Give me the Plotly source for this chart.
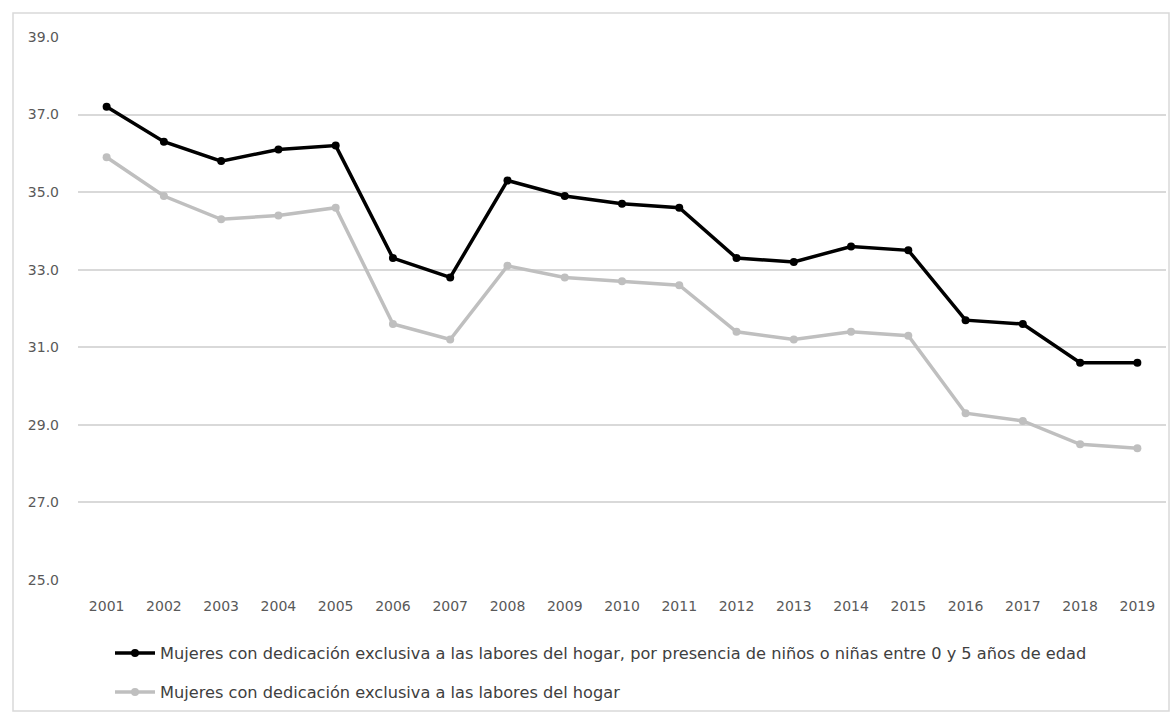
import plotly.graph_objects as go

years = [str(y) for y in range(2001, 2020)]

con_ninos = [37.2, 36.3, 35.8, 36.1, 36.2, 33.3, 32.8, 35.3, 34.9, 34.7,
             34.6, 33.3, 33.2, 33.6, 33.5, 31.7, 31.6, 30.6, 30.6]
total = [35.9, 34.9, 34.3, 34.4, 34.6, 31.6, 31.2, 33.1, 32.8, 32.7,
         32.6, 31.4, 31.2, 31.4, 31.3, 29.3, 29.1, 28.5, 28.4]

y_ticks = [25, 27, 29, 31, 33, 35, 37, 39]

name_ninos = ("Mujeres con dedicación exclusiva a las labores del hogar, "
              "por presencia de niños o niñas entre 0 y 5 años de edad")
name_total = "Mujeres con dedicación exclusiva a las labores del hogar"

W, H = 1174, 714
L, R, T, B = 78, 8, 37, 134

fig = go.Figure()
fig.add_trace(go.Scatter(
    x=years, y=con_ninos, name=name_ninos, mode="lines+markers",
    legendgroup="a",
    line=dict(color="#000000", width=3.5),
    marker=dict(color="#000000", size=8, symbol="circle"),
))
fig.add_trace(go.Scatter(
    x=years, y=total, name=name_total, mode="lines+markers",
    legendgroup="b",
    line=dict(color="#bfbfbf", width=3.5),
    marker=dict(color="#bfbfbf", size=8, symbol="circle"),
))

pw = W - L - R
ph = H - T - B

# outer chart frame
fig.add_shape(
    type="rect", xref="paper", yref="paper",
    x0=(13 - L) / pw, x1=(1169 - L) / pw,
    y0=(H - B - 711) / ph, y1=(H - B - 13) / ph,
    line=dict(color="#d9d9d9", width=1.5), fillcolor="rgba(0,0,0,0)",
    layer="below",
)

fig.update_layout(
    width=W, height=H,
    margin=dict(l=L, r=R, t=T, b=B, autoexpand=False),
    paper_bgcolor="white", plot_bgcolor="white",
    font=dict(family="DejaVu Sans, sans-serif", color="#595959"),
    showlegend=True,
    legend=dict(
        orientation="v", x=(110 - L) / pw, xanchor="left",
        y=-0.103, yanchor="top", traceorder="grouped",
        font=dict(size=16.2, color="#404040"),
        tracegroupgap=15, itemwidth=40, bgcolor="rgba(0,0,0,0)",
    ),
    xaxis=dict(
        type="category", range=[-0.5, 18.5],
        showgrid=False, showline=False, zeroline=False,
        ticks="", ticklabelstandoff=16,
        tickfont=dict(size=14, color="#595959"),
    ),
    yaxis=dict(
        range=[25, 39], tickvals=y_ticks,
        ticktext=[f"{v:.1f}" for v in y_ticks],
        showgrid=True, gridcolor="#d9d9d9", gridwidth=1.5,
        zeroline=False, showline=False, ticks="",
        ticklabelstandoff=18,
        tickfont=dict(size=14, color="#595959"),
    ),
)

fig.write_html("out.html")
